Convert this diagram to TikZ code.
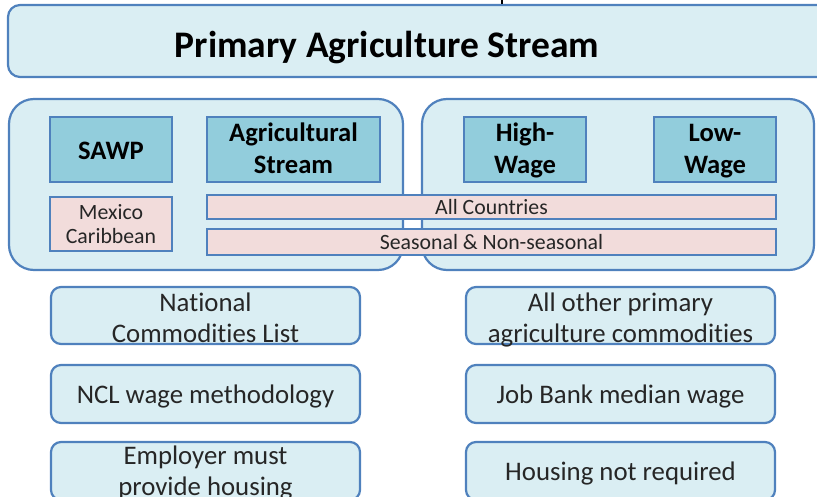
\documentclass[tikz,border=0pt]{standalone}
\usepackage{fontspec}
\setmainfont{Carlito}[Ligatures=CommonOff]
\usepackage{xcolor}
\usepackage{tikz}
\usetikzlibrary{positioning}

\definecolor{paleBlue}{HTML}{DAEEF3}
\definecolor{edgeBlue}{HTML}{4F81BD}
\definecolor{headBlue}{HTML}{92CDDC}
\definecolor{palePink}{HTML}{F2DCDB}
\definecolor{bodyText}{HTML}{262626}

\begin{document}
\begin{tikzpicture}[x=1pt, y=-1pt,
        group/.style={draw=edgeBlue, fill=paleBlue, line width=2.2pt, rounded corners=25pt,
                      minimum height=171pt, inner sep=0pt},
        headbox/.style={draw=edgeBlue, fill=headBlue, line width=2.5pt, minimum height=65pt,
                        inner sep=0pt, align=center, font=\bfseries\fontsize{26.6}{32}\selectfont,
                        text height=53pt, text depth=5pt},
        tagbox/.style={draw=edgeBlue, fill=palePink, line width=2.5pt, inner sep=0pt,
                       align=center, text=bodyText, font=\fontsize{21.8}{24}\selectfont},
        infobox/.style={draw=edgeBlue, fill=paleBlue, line width=2.2pt, rounded corners=10pt,
                        minimum width=309pt, minimum height=58pt, inner sep=0pt,
                        align=center, text=bodyText, font=\fontsize{26.8}{31}\selectfont},
        % text height is counted from the last line's baseline
        oneline/.style={text height=23pt, text depth=5pt},
        twolines/.style={text height=#1, text depth=0pt},
        twolines/.default=53.4pt]

        % page frame, bottom row runs off the edge
        \clip (0,0) rectangle (817,497);

        % Title bar
        \node[draw=edgeBlue, fill=paleBlue, line width=2.2pt, rounded corners=12pt,
              minimum width=840pt, minimum height=72pt] (titleBar) at (428,41) {};
        \node[font=\bfseries\fontsize{37.5}{42}\selectfont] (title) at (387,48) {Primary Agriculture Stream};
        \coordinate (feed) at (502,0);
        \draw[line width=1.5pt] (feed) -- (feed |- titleBar.north);

        % the two groups
        \node[group, minimum width=394pt] (leftGroup) at (206,184.5) {};
        \node[group, minimum width=392pt] (rightGroup) at (618,184.5) {};

        % Streams
        \node[headbox, minimum width=122pt, text height=26pt] (sawp) at (111,149.5) {SAWP};
        \node[headbox, minimum width=173pt] (agStream) at (293.5,149.5) {Agricultural\\Stream};
        \node[headbox, minimum width=122pt] (highWage) at (525,149.5) {High-\\Wage};
        \node[headbox, minimum width=122pt] (lowWage) at (715,149.5) {Low-\\Wage};

        % Countries and seasons
        \node[tagbox, minimum width=122pt, minimum height=54pt] (mexico) at (111,224) {Mexico\\Caribbean};
        \node[tagbox, minimum width=569pt, minimum height=24pt] (allCountries) at (491.5,207) {All Countries};
        \node[tagbox, minimum width=569pt, minimum height=26pt] (seasons) at (491.5,242) {Seasonal \& Non-seasonal};

        % Commodities, wages, housing
        \node[infobox, twolines, minimum height=57pt] (ncl) at (205.5,315.5) {National\\Commodities List};
        \node[infobox, oneline] (nclWage) at (205.5,394) {NCL wage methodology};
        \node[infobox, twolines=48pt] (housing) at (205.5,471) {Employer must\\provide housing};

        \node[infobox, twolines, minimum height=57pt] (otherComm) at (620.5,315.5) {All other primary\\agriculture commodities};
        \node[infobox, oneline] (medianWage) at (620.5,394) {Job Bank median wage};
        \node[infobox, oneline] (noHousing) at (620.5,471) {Housing not required};

    \end{tikzpicture}
\end{document}
